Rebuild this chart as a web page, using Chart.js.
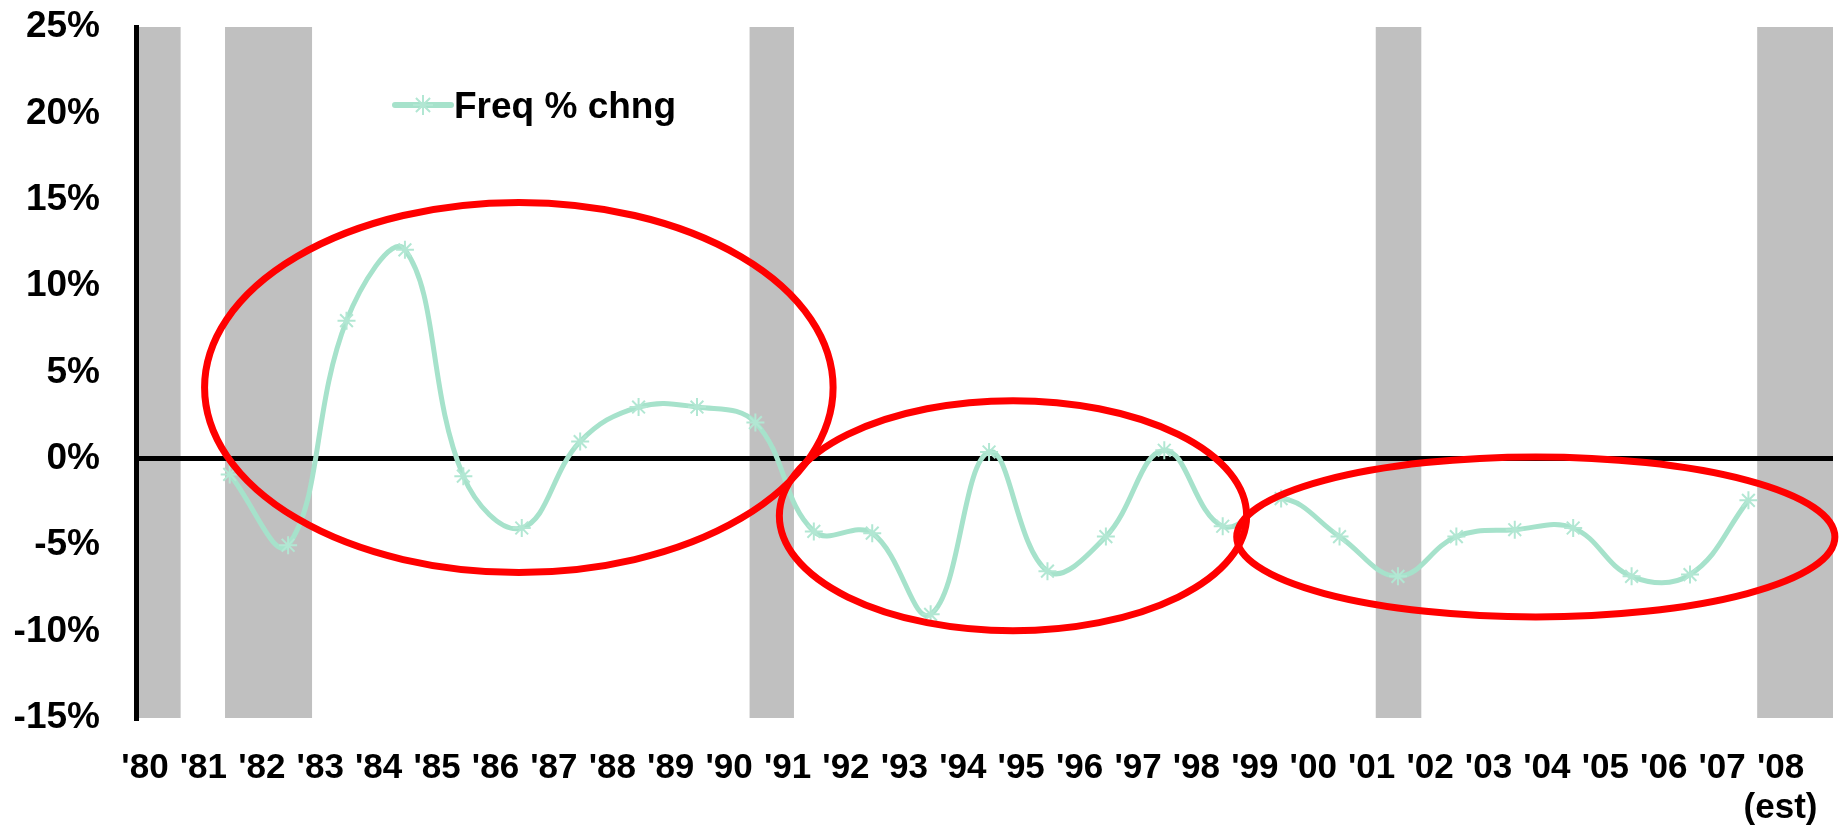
<!DOCTYPE html>
<html>
<head>
<meta charset="utf-8">
<title>Freq % chng</title>
<script src="https://cdn.jsdelivr.net/npm/chart.js@4.4.1/dist/chart.umd.min.js"></script>
<style>
  html, body { margin: 0; padding: 0; background: #ffffff; }
  canvas { display: block; }
</style>
</head>
<body>
<canvas id="chart" width="1844" height="825"></canvas>
<script>
// ---- data ----
const xTickYears = [1980, 1981, 1982, 1983, 1984, 1985, 1986, 1987, 1988, 1989,
                    1990, 1991, 1992, 1993, 1994, 1995, 1996, 1997, 1998, 1999,
                    2000, 2001, 2002, 2003, 2004, 2005, 2006, 2007, 2008];
const xTickLabels = ["'80", "'81", "'82", "'83", "'84", "'85", "'86", "'87", "'88", "'89",
                     "'90", "'91", "'92", "'93", "'94", "'95", "'96", "'97", "'98", "'99",
                     "'00", "'01", "'02", "'03", "'04", "'05", "'06", "'07", ["'08", "(est)"]];

const pointYears = [1981, 1982, 1983, 1984, 1985, 1986, 1987, 1988, 1989, 1990,
                    1991, 1992, 1993, 1994, 1995, 1996, 1997, 1998, 1999, 2000,
                    2001, 2002, 2003, 2004, 2005, 2006, 2007];
const freqChange = [-0.9, -5.0, 8.0, 12.1, -1.0, -4.0, 1.0, 3.0, 3.0, 2.1,
                    -4.2, -4.3, -9.0, 0.4, -6.5, -4.5, 0.5, -3.9, -2.3, -4.5,
                    -6.8, -4.5, -4.1, -4.0, -6.8, -6.7, -2.4];
const seriesName = 'Freq % chng';

// recession periods (shaded), in fractional years
const recessionStart = [1979.85, 1981.37, 1990.35, 2001.07, 2007.60];
const recessionEnd   = [1980.61, 1982.86, 1991.11, 2001.85, 2008.90];

// circled periods: centre year, centre %, half-width in years, half-height in %
const circleYear  = [1986.40, 1994.86, 2003.81];
const circlePct   = [4.13, -3.29, -4.52];
const circleSpanY = [5.38, 4.00, 5.12];
const circleSpanP = [10.71, 6.66, 4.63];

// mid-year placement of the annual values
const POINT_OFFSET = 0.45;

// ---- styling ----
const LINE_COLOR = '#A6E2CB';
const MARK_COLOR = '#B2E7D3';
const FONT_FAMILY = '"Liberation Sans", Arial, sans-serif';

function drawStar(ctx, x, y, r) {
  const d = Math.cos(Math.PI / 4) * r;
  ctx.beginPath();
  ctx.moveTo(x - r, y); ctx.lineTo(x + r, y);
  ctx.moveTo(x, y - r); ctx.lineTo(x, y + r);
  ctx.moveTo(x - d, y - d); ctx.lineTo(x + d, y + d);
  ctx.moveTo(x - d, y + d); ctx.lineTo(x + d, y - d);
  ctx.stroke();
}

// grey recession columns behind everything
const recessionBands = {
  id: 'recessionBands',
  beforeDraw(chart) {
    const { ctx, chartArea: a, scales: { x } } = chart;
    ctx.save();
    ctx.fillStyle = '#C0C0C0';
    recessionStart.forEach((s, i) => {
      const l = Math.max(x.getPixelForValue(s), a.left);
      const r = Math.min(x.getPixelForValue(recessionEnd[i]), a.right);
      ctx.fillRect(l, a.top, r - l, a.bottom - a.top);
    });
    ctx.restore();
  }
};

// red ellipses drawn on top of the series
const circledPeriods = {
  id: 'circledPeriods',
  afterDraw(chart) {
    const { ctx, scales: { x, y } } = chart;
    ctx.save();
    ctx.strokeStyle = '#FF0000';
    ctx.lineWidth = 7;
    circleYear.forEach((cy, i) => {
      const px = x.getPixelForValue(cy);
      const py = y.getPixelForValue(circlePct[i]);
      const rx = Math.abs(x.getPixelForValue(cy + circleSpanY[i]) - px);
      const ry = Math.abs(y.getPixelForValue(circlePct[i] + circleSpanP[i]) - py);
      ctx.beginPath();
      ctx.ellipse(px, py, rx, ry, 0, 0, Math.PI * 2);
      ctx.stroke();
    });
    ctx.restore();
  }
};

// series key inside the plot: line sample with star marker, then the label
const seriesKey = {
  id: 'seriesKey',
  afterDatasetsDraw(chart) {
    const { ctx, chartArea: a } = chart;
    const x0 = a.left + 259, x1 = a.left + 315, yc = a.top + 78;
    ctx.save();
    ctx.strokeStyle = LINE_COLOR;
    ctx.lineWidth = 6;
    ctx.lineCap = 'round';
    ctx.beginPath(); ctx.moveTo(x0, yc); ctx.lineTo(x1, yc); ctx.stroke();
    ctx.strokeStyle = MARK_COLOR;
    ctx.lineWidth = 2;
    ctx.lineCap = 'butt';
    drawStar(ctx, (x0 + x1) / 2, yc, 10);
    ctx.fillStyle = '#000000';
    ctx.font = 'bold 37px ' + FONT_FAMILY;
    ctx.textBaseline = 'alphabetic';
    ctx.textAlign = 'left';
    ctx.fillText(chart.data.datasets[0].label, x1 + 3, yc + 13);
    ctx.restore();
  }
};

new Chart(document.getElementById('chart'), {
  type: 'line',
  data: {
    datasets: [{
      label: seriesName,
      data: pointYears.map((yr, i) => ({ x: yr + POINT_OFFSET, y: freqChange[i] })),
      borderColor: LINE_COLOR,
      borderWidth: 5,
      tension: 0.4,
      fill: false,
      pointStyle: 'star',
      pointRadius: 9,
      pointBorderWidth: 2,
      pointBorderColor: MARK_COLOR,
      pointBackgroundColor: MARK_COLOR
    }]
  },
  options: {
    responsive: false,
    devicePixelRatio: 1,
    animation: false,
    layout: { padding: { left: 0, right: 3, top: 27, bottom: 0 } },
    plugins: {
      legend: { display: false },
      tooltip: { enabled: false }
    },
    scales: {
      x: {
        type: 'linear',
        bounds: 'data',
        min: 1979.846,
        max: 2008.898,
        afterBuildTicks: (scale) => { scale.ticks = xTickYears.map(v => ({ value: v })); },
        afterFit: (scale) => {
          scale.height = 107;
          scale.paddingLeft = 0; scale.paddingRight = 0;
        },
        grid: { display: false, drawTicks: false },
        border: { display: false },
        ticks: {
          autoSkip: false,
          maxRotation: 0,
          padding: 30,
          color: '#000000',
          font: { family: FONT_FAMILY, size: 35, weight: 'bold', lineHeight: 1.15 },
          callback: (value, index) => xTickLabels[index]
        }
      },
      y: {
        min: -15,
        max: 25,
        afterFit: (scale) => {
          scale.width = 136;
          scale.paddingTop = 0; scale.paddingBottom = 0;
        },
        ticks: {
          stepSize: 5,
          padding: 36,
          color: '#000000',
          font: { family: FONT_FAMILY, size: 37, weight: 'bold' },
          callback: (v) => v + '%'
        },
        grid: {
          drawTicks: false,
          lineWidth: 5,
          color: (ctx) => (ctx.tick && ctx.tick.value === 0 ? '#000000' : 'rgba(0,0,0,0)')
        },
        border: { display: true, color: '#000000', width: 5 }
      }
    }
  },
  plugins: [recessionBands, seriesKey, circledPeriods]
});
</script>
</body>
</html>
